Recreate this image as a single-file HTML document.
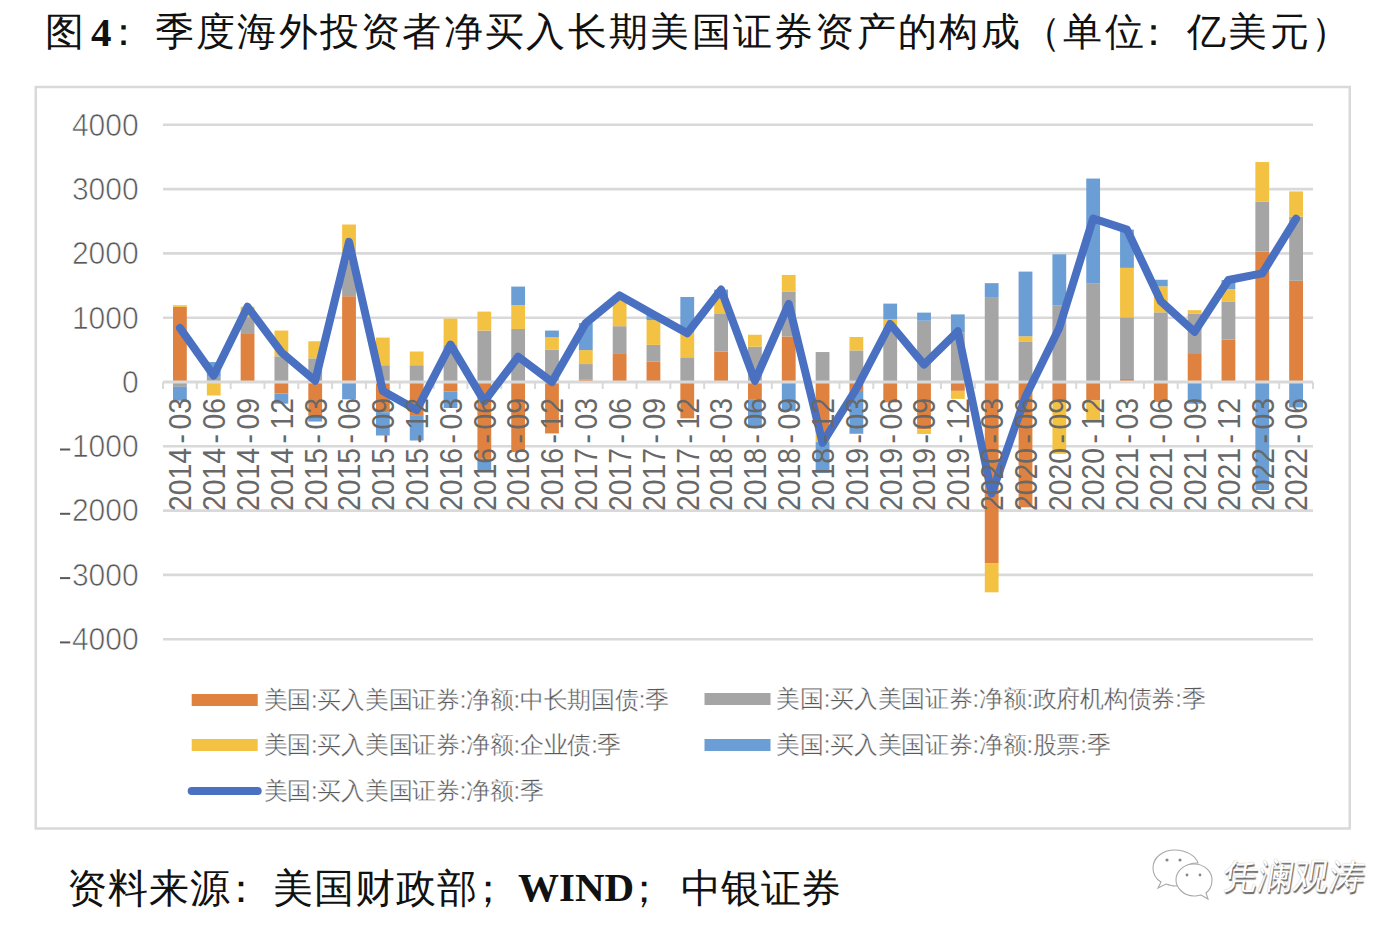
<!DOCTYPE html>
<html><head><meta charset="utf-8"><style>
html,body{margin:0;padding:0;background:#fff;width:1390px;height:930px;overflow:hidden}
.yl{font-family:"Liberation Sans",sans-serif;font-size:32.3px;fill:#595959;stroke:#fff;stroke-width:0.7px}
.xl{font-family:"Liberation Sans",sans-serif;font-size:31.5px;fill:#686868}
.lg{font-family:"Liberation Sans",sans-serif;font-size:23.6px;letter-spacing:-0.25px;fill:#595959;stroke:#fff;stroke-width:0.35px}
.ti{position:absolute;font-family:"Liberation Serif",serif;color:#111;white-space:nowrap;line-height:1}
</style></head><body>
<svg width="1390" height="930" style="position:absolute;left:0;top:0">
<rect x="35.75" y="87" width="1314" height="741.5" fill="none" stroke="#D9D9D9" stroke-width="2.5"/>
<line x1="163.0" x2="1313.0" y1="124.80" y2="124.80" stroke="#D9D9D9" stroke-width="2.6"/>
<line x1="163.0" x2="1313.0" y1="189.10" y2="189.10" stroke="#D9D9D9" stroke-width="2.6"/>
<line x1="163.0" x2="1313.0" y1="253.40" y2="253.40" stroke="#D9D9D9" stroke-width="2.6"/>
<line x1="163.0" x2="1313.0" y1="317.70" y2="317.70" stroke="#D9D9D9" stroke-width="2.6"/>
<line x1="163.0" x2="1313.0" y1="446.30" y2="446.30" stroke="#D9D9D9" stroke-width="2.6"/>
<line x1="163.0" x2="1313.0" y1="510.60" y2="510.60" stroke="#D9D9D9" stroke-width="2.6"/>
<line x1="163.0" x2="1313.0" y1="574.90" y2="574.90" stroke="#D9D9D9" stroke-width="2.6"/>
<line x1="163.0" x2="1313.0" y1="639.20" y2="639.20" stroke="#D9D9D9" stroke-width="2.6"/>
<rect x="173.01" y="306.90" width="13.8" height="75.10" fill="#E0823F"/>
<rect x="173.01" y="382.00" width="13.8" height="4.82" fill="#A5A5A5"/>
<rect x="173.01" y="305.23" width="13.8" height="1.67" fill="#F4C243"/>
<rect x="173.01" y="386.82" width="13.8" height="13.82" fill="#6A9ED4"/>
<rect x="206.84" y="376.86" width="13.8" height="5.14" fill="#A5A5A5"/>
<rect x="206.84" y="382.00" width="13.8" height="13.50" fill="#F4C243"/>
<rect x="206.84" y="362.07" width="13.8" height="14.79" fill="#6A9ED4"/>
<rect x="240.66" y="333.97" width="13.8" height="48.03" fill="#E0823F"/>
<rect x="240.66" y="316.67" width="13.8" height="17.30" fill="#A5A5A5"/>
<rect x="240.66" y="306.77" width="13.8" height="9.90" fill="#F4C243"/>
<rect x="274.48" y="382.00" width="13.8" height="11.57" fill="#E0823F"/>
<rect x="274.48" y="356.28" width="13.8" height="25.72" fill="#A5A5A5"/>
<rect x="274.48" y="330.56" width="13.8" height="25.72" fill="#F4C243"/>
<rect x="274.48" y="393.57" width="13.8" height="10.10" fill="#6A9ED4"/>
<rect x="308.31" y="382.00" width="13.8" height="33.11" fill="#E0823F"/>
<rect x="308.31" y="358.34" width="13.8" height="23.66" fill="#A5A5A5"/>
<rect x="308.31" y="341.23" width="13.8" height="17.10" fill="#F4C243"/>
<rect x="308.31" y="415.11" width="13.8" height="6.43" fill="#6A9ED4"/>
<rect x="342.13" y="296.22" width="13.8" height="85.78" fill="#E0823F"/>
<rect x="342.13" y="261.37" width="13.8" height="34.85" fill="#A5A5A5"/>
<rect x="342.13" y="224.53" width="13.8" height="36.84" fill="#F4C243"/>
<rect x="342.13" y="382.00" width="13.8" height="17.36" fill="#6A9ED4"/>
<rect x="375.95" y="382.00" width="13.8" height="30.22" fill="#E0823F"/>
<rect x="375.95" y="365.22" width="13.8" height="16.78" fill="#A5A5A5"/>
<rect x="375.95" y="337.57" width="13.8" height="27.65" fill="#F4C243"/>
<rect x="375.95" y="412.22" width="13.8" height="23.28" fill="#6A9ED4"/>
<rect x="409.78" y="382.00" width="13.8" height="33.11" fill="#E0823F"/>
<rect x="409.78" y="365.22" width="13.8" height="16.78" fill="#A5A5A5"/>
<rect x="409.78" y="351.52" width="13.8" height="13.70" fill="#F4C243"/>
<rect x="409.78" y="415.11" width="13.8" height="25.40" fill="#6A9ED4"/>
<rect x="443.60" y="382.00" width="13.8" height="9.45" fill="#E0823F"/>
<rect x="443.60" y="345.16" width="13.8" height="36.84" fill="#A5A5A5"/>
<rect x="443.60" y="318.60" width="13.8" height="26.56" fill="#F4C243"/>
<rect x="443.60" y="391.45" width="13.8" height="16.53" fill="#6A9ED4"/>
<rect x="477.42" y="382.00" width="13.8" height="76.90" fill="#E0823F"/>
<rect x="477.42" y="330.56" width="13.8" height="51.44" fill="#A5A5A5"/>
<rect x="477.42" y="311.59" width="13.8" height="18.97" fill="#F4C243"/>
<rect x="477.42" y="458.90" width="13.8" height="12.92" fill="#6A9ED4"/>
<rect x="511.25" y="382.00" width="13.8" height="70.09" fill="#E0823F"/>
<rect x="511.25" y="328.95" width="13.8" height="53.05" fill="#A5A5A5"/>
<rect x="511.25" y="305.23" width="13.8" height="23.73" fill="#F4C243"/>
<rect x="511.25" y="286.58" width="13.8" height="18.65" fill="#6A9ED4"/>
<rect x="545.07" y="382.00" width="13.8" height="51.44" fill="#E0823F"/>
<rect x="545.07" y="349.85" width="13.8" height="32.15" fill="#A5A5A5"/>
<rect x="545.07" y="337.25" width="13.8" height="12.60" fill="#F4C243"/>
<rect x="545.07" y="330.56" width="13.8" height="6.69" fill="#6A9ED4"/>
<rect x="578.89" y="379.81" width="13.8" height="2.19" fill="#E0823F"/>
<rect x="578.89" y="364.06" width="13.8" height="15.75" fill="#A5A5A5"/>
<rect x="578.89" y="350.11" width="13.8" height="13.95" fill="#F4C243"/>
<rect x="578.89" y="323.10" width="13.8" height="27.01" fill="#6A9ED4"/>
<rect x="612.72" y="353.19" width="13.8" height="28.81" fill="#E0823F"/>
<rect x="612.72" y="326.19" width="13.8" height="27.01" fill="#A5A5A5"/>
<rect x="612.72" y="295.39" width="13.8" height="30.80" fill="#F4C243"/>
<rect x="646.54" y="361.75" width="13.8" height="20.25" fill="#E0823F"/>
<rect x="646.54" y="344.90" width="13.8" height="16.85" fill="#A5A5A5"/>
<rect x="646.54" y="320.08" width="13.8" height="24.82" fill="#F4C243"/>
<rect x="646.54" y="314.49" width="13.8" height="5.59" fill="#6A9ED4"/>
<rect x="680.36" y="382.00" width="13.8" height="36.33" fill="#E0823F"/>
<rect x="680.36" y="357.31" width="13.8" height="24.69" fill="#A5A5A5"/>
<rect x="680.36" y="332.55" width="13.8" height="24.76" fill="#F4C243"/>
<rect x="680.36" y="297.00" width="13.8" height="35.56" fill="#6A9ED4"/>
<rect x="714.19" y="351.71" width="13.8" height="30.29" fill="#E0823F"/>
<rect x="714.19" y="314.03" width="13.8" height="37.68" fill="#A5A5A5"/>
<rect x="714.19" y="298.73" width="13.8" height="15.30" fill="#F4C243"/>
<rect x="714.19" y="289.60" width="13.8" height="9.13" fill="#6A9ED4"/>
<rect x="748.01" y="382.00" width="13.8" height="17.88" fill="#E0823F"/>
<rect x="748.01" y="346.70" width="13.8" height="35.30" fill="#A5A5A5"/>
<rect x="748.01" y="334.74" width="13.8" height="11.96" fill="#F4C243"/>
<rect x="748.01" y="399.88" width="13.8" height="28.29" fill="#6A9ED4"/>
<rect x="781.84" y="336.48" width="13.8" height="45.52" fill="#E0823F"/>
<rect x="781.84" y="291.85" width="13.8" height="44.62" fill="#A5A5A5"/>
<rect x="781.84" y="274.94" width="13.8" height="16.91" fill="#F4C243"/>
<rect x="781.84" y="382.00" width="13.8" height="28.87" fill="#6A9ED4"/>
<rect x="815.66" y="382.00" width="13.8" height="51.12" fill="#E0823F"/>
<rect x="815.66" y="352.04" width="13.8" height="29.96" fill="#A5A5A5"/>
<rect x="815.66" y="433.12" width="13.8" height="9.00" fill="#F4C243"/>
<rect x="815.66" y="442.12" width="13.8" height="30.67" fill="#6A9ED4"/>
<rect x="849.48" y="382.00" width="13.8" height="8.87" fill="#E0823F"/>
<rect x="849.48" y="350.43" width="13.8" height="31.57" fill="#A5A5A5"/>
<rect x="849.48" y="336.99" width="13.8" height="13.44" fill="#F4C243"/>
<rect x="849.48" y="390.87" width="13.8" height="42.89" fill="#6A9ED4"/>
<rect x="883.31" y="382.00" width="13.8" height="20.38" fill="#E0823F"/>
<rect x="883.31" y="327.86" width="13.8" height="54.14" fill="#A5A5A5"/>
<rect x="883.31" y="319.37" width="13.8" height="8.49" fill="#F4C243"/>
<rect x="883.31" y="303.62" width="13.8" height="15.75" fill="#6A9ED4"/>
<rect x="917.13" y="382.00" width="13.8" height="47.32" fill="#E0823F"/>
<rect x="917.13" y="320.72" width="13.8" height="61.28" fill="#A5A5A5"/>
<rect x="917.13" y="429.32" width="13.8" height="4.63" fill="#F4C243"/>
<rect x="917.13" y="312.62" width="13.8" height="8.10" fill="#6A9ED4"/>
<rect x="950.95" y="382.00" width="13.8" height="8.87" fill="#E0823F"/>
<rect x="950.95" y="332.49" width="13.8" height="49.51" fill="#A5A5A5"/>
<rect x="950.95" y="390.87" width="13.8" height="8.04" fill="#F4C243"/>
<rect x="950.95" y="314.42" width="13.8" height="18.07" fill="#6A9ED4"/>
<rect x="984.78" y="382.00" width="13.8" height="181.07" fill="#E0823F"/>
<rect x="984.78" y="297.06" width="13.8" height="84.94" fill="#A5A5A5"/>
<rect x="984.78" y="563.07" width="13.8" height="29.26" fill="#F4C243"/>
<rect x="984.78" y="283.17" width="13.8" height="13.89" fill="#6A9ED4"/>
<rect x="1018.60" y="382.00" width="13.8" height="125.26" fill="#E0823F"/>
<rect x="1018.60" y="341.94" width="13.8" height="40.06" fill="#A5A5A5"/>
<rect x="1018.60" y="336.28" width="13.8" height="5.66" fill="#F4C243"/>
<rect x="1018.60" y="271.60" width="13.8" height="64.69" fill="#6A9ED4"/>
<rect x="1052.42" y="382.00" width="13.8" height="18.52" fill="#E0823F"/>
<rect x="1052.42" y="305.61" width="13.8" height="76.39" fill="#A5A5A5"/>
<rect x="1052.42" y="400.52" width="13.8" height="53.37" fill="#F4C243"/>
<rect x="1052.42" y="254.30" width="13.8" height="51.31" fill="#6A9ED4"/>
<rect x="1086.25" y="382.00" width="13.8" height="18.52" fill="#E0823F"/>
<rect x="1086.25" y="283.17" width="13.8" height="98.83" fill="#A5A5A5"/>
<rect x="1086.25" y="400.52" width="13.8" height="19.87" fill="#F4C243"/>
<rect x="1086.25" y="178.55" width="13.8" height="104.62" fill="#6A9ED4"/>
<rect x="1120.07" y="378.98" width="13.8" height="3.02" fill="#E0823F"/>
<rect x="1120.07" y="317.31" width="13.8" height="61.66" fill="#A5A5A5"/>
<rect x="1120.07" y="267.87" width="13.8" height="49.45" fill="#F4C243"/>
<rect x="1120.07" y="229.61" width="13.8" height="38.26" fill="#6A9ED4"/>
<rect x="1153.89" y="382.00" width="13.8" height="19.87" fill="#E0823F"/>
<rect x="1153.89" y="312.30" width="13.8" height="69.70" fill="#A5A5A5"/>
<rect x="1153.89" y="286.32" width="13.8" height="25.98" fill="#F4C243"/>
<rect x="1153.89" y="279.76" width="13.8" height="6.56" fill="#6A9ED4"/>
<rect x="1187.72" y="353.13" width="13.8" height="28.87" fill="#E0823F"/>
<rect x="1187.72" y="313.58" width="13.8" height="39.54" fill="#A5A5A5"/>
<rect x="1187.72" y="310.18" width="13.8" height="3.41" fill="#F4C243"/>
<rect x="1187.72" y="382.00" width="13.8" height="21.73" fill="#6A9ED4"/>
<rect x="1221.54" y="339.43" width="13.8" height="42.57" fill="#E0823F"/>
<rect x="1221.54" y="301.43" width="13.8" height="38.00" fill="#A5A5A5"/>
<rect x="1221.54" y="289.02" width="13.8" height="12.41" fill="#F4C243"/>
<rect x="1221.54" y="280.02" width="13.8" height="9.00" fill="#6A9ED4"/>
<rect x="1255.36" y="251.60" width="13.8" height="130.40" fill="#E0823F"/>
<rect x="1255.36" y="201.83" width="13.8" height="49.77" fill="#A5A5A5"/>
<rect x="1255.36" y="162.03" width="13.8" height="39.80" fill="#F4C243"/>
<rect x="1255.36" y="382.00" width="13.8" height="108.02" fill="#6A9ED4"/>
<rect x="1289.19" y="280.79" width="13.8" height="101.21" fill="#E0823F"/>
<rect x="1289.19" y="216.68" width="13.8" height="64.11" fill="#A5A5A5"/>
<rect x="1289.19" y="191.41" width="13.8" height="25.27" fill="#F4C243"/>
<rect x="1289.19" y="382.00" width="13.8" height="25.40" fill="#6A9ED4"/>
<line x1="163.0" x2="1313.0" y1="382.0" y2="382.0" stroke="#D9D9D9" stroke-width="3"/>
<line x1="163.00" x2="163.00" y1="382.0" y2="389.0" stroke="#D9D9D9" stroke-width="2"/>
<line x1="196.82" x2="196.82" y1="382.0" y2="389.0" stroke="#D9D9D9" stroke-width="2"/>
<line x1="230.65" x2="230.65" y1="382.0" y2="389.0" stroke="#D9D9D9" stroke-width="2"/>
<line x1="264.47" x2="264.47" y1="382.0" y2="389.0" stroke="#D9D9D9" stroke-width="2"/>
<line x1="298.29" x2="298.29" y1="382.0" y2="389.0" stroke="#D9D9D9" stroke-width="2"/>
<line x1="332.12" x2="332.12" y1="382.0" y2="389.0" stroke="#D9D9D9" stroke-width="2"/>
<line x1="365.94" x2="365.94" y1="382.0" y2="389.0" stroke="#D9D9D9" stroke-width="2"/>
<line x1="399.76" x2="399.76" y1="382.0" y2="389.0" stroke="#D9D9D9" stroke-width="2"/>
<line x1="433.59" x2="433.59" y1="382.0" y2="389.0" stroke="#D9D9D9" stroke-width="2"/>
<line x1="467.41" x2="467.41" y1="382.0" y2="389.0" stroke="#D9D9D9" stroke-width="2"/>
<line x1="501.24" x2="501.24" y1="382.0" y2="389.0" stroke="#D9D9D9" stroke-width="2"/>
<line x1="535.06" x2="535.06" y1="382.0" y2="389.0" stroke="#D9D9D9" stroke-width="2"/>
<line x1="568.88" x2="568.88" y1="382.0" y2="389.0" stroke="#D9D9D9" stroke-width="2"/>
<line x1="602.71" x2="602.71" y1="382.0" y2="389.0" stroke="#D9D9D9" stroke-width="2"/>
<line x1="636.53" x2="636.53" y1="382.0" y2="389.0" stroke="#D9D9D9" stroke-width="2"/>
<line x1="670.35" x2="670.35" y1="382.0" y2="389.0" stroke="#D9D9D9" stroke-width="2"/>
<line x1="704.18" x2="704.18" y1="382.0" y2="389.0" stroke="#D9D9D9" stroke-width="2"/>
<line x1="738.00" x2="738.00" y1="382.0" y2="389.0" stroke="#D9D9D9" stroke-width="2"/>
<line x1="771.82" x2="771.82" y1="382.0" y2="389.0" stroke="#D9D9D9" stroke-width="2"/>
<line x1="805.65" x2="805.65" y1="382.0" y2="389.0" stroke="#D9D9D9" stroke-width="2"/>
<line x1="839.47" x2="839.47" y1="382.0" y2="389.0" stroke="#D9D9D9" stroke-width="2"/>
<line x1="873.29" x2="873.29" y1="382.0" y2="389.0" stroke="#D9D9D9" stroke-width="2"/>
<line x1="907.12" x2="907.12" y1="382.0" y2="389.0" stroke="#D9D9D9" stroke-width="2"/>
<line x1="940.94" x2="940.94" y1="382.0" y2="389.0" stroke="#D9D9D9" stroke-width="2"/>
<line x1="974.76" x2="974.76" y1="382.0" y2="389.0" stroke="#D9D9D9" stroke-width="2"/>
<line x1="1008.59" x2="1008.59" y1="382.0" y2="389.0" stroke="#D9D9D9" stroke-width="2"/>
<line x1="1042.41" x2="1042.41" y1="382.0" y2="389.0" stroke="#D9D9D9" stroke-width="2"/>
<line x1="1076.24" x2="1076.24" y1="382.0" y2="389.0" stroke="#D9D9D9" stroke-width="2"/>
<line x1="1110.06" x2="1110.06" y1="382.0" y2="389.0" stroke="#D9D9D9" stroke-width="2"/>
<line x1="1143.88" x2="1143.88" y1="382.0" y2="389.0" stroke="#D9D9D9" stroke-width="2"/>
<line x1="1177.71" x2="1177.71" y1="382.0" y2="389.0" stroke="#D9D9D9" stroke-width="2"/>
<line x1="1211.53" x2="1211.53" y1="382.0" y2="389.0" stroke="#D9D9D9" stroke-width="2"/>
<line x1="1245.35" x2="1245.35" y1="382.0" y2="389.0" stroke="#D9D9D9" stroke-width="2"/>
<line x1="1279.18" x2="1279.18" y1="382.0" y2="389.0" stroke="#D9D9D9" stroke-width="2"/>
<line x1="1313.00" x2="1313.00" y1="382.0" y2="389.0" stroke="#D9D9D9" stroke-width="2"/>
<text transform="translate(138.7,135.60) scale(0.93,1)" text-anchor="end" class="yl">4000</text>
<text transform="translate(138.7,199.90) scale(0.93,1)" text-anchor="end" class="yl">3000</text>
<text transform="translate(138.7,264.20) scale(0.93,1)" text-anchor="end" class="yl">2000</text>
<text transform="translate(138.7,328.50) scale(0.93,1)" text-anchor="end" class="yl">1000</text>
<text transform="translate(138.7,392.80) scale(0.93,1)" text-anchor="end" class="yl">0</text>
<text transform="translate(138.7,457.10) scale(0.93,1)" text-anchor="end" class="yl">1000</text>
<line x1="60" x2="70.2" y1="449.50" y2="449.50" stroke="#595959" stroke-width="2"/>
<text transform="translate(138.7,521.40) scale(0.93,1)" text-anchor="end" class="yl">2000</text>
<line x1="60" x2="70.2" y1="513.80" y2="513.80" stroke="#595959" stroke-width="2"/>
<text transform="translate(138.7,585.70) scale(0.93,1)" text-anchor="end" class="yl">3000</text>
<line x1="60" x2="70.2" y1="578.10" y2="578.10" stroke="#595959" stroke-width="2"/>
<text transform="translate(138.7,650.00) scale(0.93,1)" text-anchor="end" class="yl">4000</text>
<line x1="60" x2="70.2" y1="642.40" y2="642.40" stroke="#595959" stroke-width="2"/>
<polyline points="179.91,327.92 213.74,375.57 247.56,306.77 281.38,352.23 315.21,380.78 349.03,241.89 382.85,391.07 416.68,410.03 450.50,344.58 484.32,401.42 518.15,356.67 551.97,382.00 585.79,323.10 619.62,295.39 653.44,314.49 687.26,333.32 721.09,289.60 754.91,380.91 788.74,303.81 822.56,442.83 856.38,388.75 890.21,324.00 924.03,364.57 957.85,331.33 991.68,493.50 1025.50,396.85 1059.32,327.67 1093.15,218.49 1126.97,229.61 1160.79,301.24 1194.62,331.91 1228.44,280.02 1262.26,273.33 1296.09,218.68" fill="none" stroke="#4A70C2" stroke-width="8" stroke-linejoin="round" stroke-linecap="round"/>
<text transform="translate(191.21,511) rotate(-90) scale(0.9,1)" class="xl">2014<tspan dx="5">-</tspan><tspan dx="5">03</tspan></text>
<text transform="translate(225.04,511) rotate(-90) scale(0.9,1)" class="xl">2014<tspan dx="5">-</tspan><tspan dx="5">06</tspan></text>
<text transform="translate(258.86,511) rotate(-90) scale(0.9,1)" class="xl">2014<tspan dx="5">-</tspan><tspan dx="5">09</tspan></text>
<text transform="translate(292.68,511) rotate(-90) scale(0.9,1)" class="xl">2014<tspan dx="5">-</tspan><tspan dx="5">12</tspan></text>
<text transform="translate(326.51,511) rotate(-90) scale(0.9,1)" class="xl">2015<tspan dx="5">-</tspan><tspan dx="5">03</tspan></text>
<text transform="translate(360.33,511) rotate(-90) scale(0.9,1)" class="xl">2015<tspan dx="5">-</tspan><tspan dx="5">06</tspan></text>
<text transform="translate(394.15,511) rotate(-90) scale(0.9,1)" class="xl">2015<tspan dx="5">-</tspan><tspan dx="5">09</tspan></text>
<text transform="translate(427.98,511) rotate(-90) scale(0.9,1)" class="xl">2015<tspan dx="5">-</tspan><tspan dx="5">12</tspan></text>
<text transform="translate(461.80,511) rotate(-90) scale(0.9,1)" class="xl">2016<tspan dx="5">-</tspan><tspan dx="5">03</tspan></text>
<text transform="translate(495.62,511) rotate(-90) scale(0.9,1)" class="xl">2016<tspan dx="5">-</tspan><tspan dx="5">06</tspan></text>
<text transform="translate(529.45,511) rotate(-90) scale(0.9,1)" class="xl">2016<tspan dx="5">-</tspan><tspan dx="5">09</tspan></text>
<text transform="translate(563.27,511) rotate(-90) scale(0.9,1)" class="xl">2016<tspan dx="5">-</tspan><tspan dx="5">12</tspan></text>
<text transform="translate(597.09,511) rotate(-90) scale(0.9,1)" class="xl">2017<tspan dx="5">-</tspan><tspan dx="5">03</tspan></text>
<text transform="translate(630.92,511) rotate(-90) scale(0.9,1)" class="xl">2017<tspan dx="5">-</tspan><tspan dx="5">06</tspan></text>
<text transform="translate(664.74,511) rotate(-90) scale(0.9,1)" class="xl">2017<tspan dx="5">-</tspan><tspan dx="5">09</tspan></text>
<text transform="translate(698.56,511) rotate(-90) scale(0.9,1)" class="xl">2017<tspan dx="5">-</tspan><tspan dx="5">12</tspan></text>
<text transform="translate(732.39,511) rotate(-90) scale(0.9,1)" class="xl">2018<tspan dx="5">-</tspan><tspan dx="5">03</tspan></text>
<text transform="translate(766.21,511) rotate(-90) scale(0.9,1)" class="xl">2018<tspan dx="5">-</tspan><tspan dx="5">06</tspan></text>
<text transform="translate(800.04,511) rotate(-90) scale(0.9,1)" class="xl">2018<tspan dx="5">-</tspan><tspan dx="5">09</tspan></text>
<text transform="translate(833.86,511) rotate(-90) scale(0.9,1)" class="xl">2018<tspan dx="5">-</tspan><tspan dx="5">12</tspan></text>
<text transform="translate(867.68,511) rotate(-90) scale(0.9,1)" class="xl">2019<tspan dx="5">-</tspan><tspan dx="5">03</tspan></text>
<text transform="translate(901.51,511) rotate(-90) scale(0.9,1)" class="xl">2019<tspan dx="5">-</tspan><tspan dx="5">06</tspan></text>
<text transform="translate(935.33,511) rotate(-90) scale(0.9,1)" class="xl">2019<tspan dx="5">-</tspan><tspan dx="5">09</tspan></text>
<text transform="translate(969.15,511) rotate(-90) scale(0.9,1)" class="xl">2019<tspan dx="5">-</tspan><tspan dx="5">12</tspan></text>
<text transform="translate(1002.98,511) rotate(-90) scale(0.9,1)" class="xl">2020<tspan dx="5">-</tspan><tspan dx="5">03</tspan></text>
<text transform="translate(1036.80,511) rotate(-90) scale(0.9,1)" class="xl">2020<tspan dx="5">-</tspan><tspan dx="5">06</tspan></text>
<text transform="translate(1070.62,511) rotate(-90) scale(0.9,1)" class="xl">2020<tspan dx="5">-</tspan><tspan dx="5">09</tspan></text>
<text transform="translate(1104.45,511) rotate(-90) scale(0.9,1)" class="xl">2020<tspan dx="5">-</tspan><tspan dx="5">12</tspan></text>
<text transform="translate(1138.27,511) rotate(-90) scale(0.9,1)" class="xl">2021<tspan dx="5">-</tspan><tspan dx="5">03</tspan></text>
<text transform="translate(1172.09,511) rotate(-90) scale(0.9,1)" class="xl">2021<tspan dx="5">-</tspan><tspan dx="5">06</tspan></text>
<text transform="translate(1205.92,511) rotate(-90) scale(0.9,1)" class="xl">2021<tspan dx="5">-</tspan><tspan dx="5">09</tspan></text>
<text transform="translate(1239.74,511) rotate(-90) scale(0.9,1)" class="xl">2021<tspan dx="5">-</tspan><tspan dx="5">12</tspan></text>
<text transform="translate(1273.56,511) rotate(-90) scale(0.9,1)" class="xl">2022<tspan dx="5">-</tspan><tspan dx="5">03</tspan></text>
<text transform="translate(1307.39,511) rotate(-90) scale(0.9,1)" class="xl">2022<tspan dx="5">-</tspan><tspan dx="5">06</tspan></text>
<rect x="191.7" y="694" width="66" height="12" fill="#E0823F"/>
<text x="263.5" y="708.4" class="lg">美国:买入美国证券:净额:中长期国债:季</text>
<rect x="704.5" y="693" width="66" height="12" fill="#A5A5A5"/>
<text x="776.3" y="707.4" class="lg">美国:买入美国证券:净额:政府机构债券:季</text>
<rect x="191.7" y="739" width="66" height="12" fill="#F4C243"/>
<text x="263.5" y="753.4" class="lg">美国:买入美国证券:净额:企业债:季</text>
<rect x="704.5" y="739" width="66" height="12" fill="#6A9ED4"/>
<text x="776.3" y="753.4" class="lg">美国:买入美国证券:净额:股票:季</text>
<line x1="191.7" x2="257.7" y1="791" y2="791" stroke="#4A70C2" stroke-width="8" stroke-linecap="round"/>
<text x="263.5" y="799.4" class="lg">美国:买入美国证券:净额:季</text>
</svg>
<div class="ti" style="left:45px;top:12px;font-size:39px">图</div>
<div class="ti" style="left:91px;top:12px;font-size:41px;font-weight:bold;-webkit-text-stroke:0">4</div>
<div class="ti" style="left:104px;top:12px;font-size:39px">：</div>
<div class="ti" style="left:153.50px;top:12px;width:41.30px;text-align:center;font-size:39px;transform:scaleX(1)">季</div>
<div class="ti" style="left:194.80px;top:12px;width:41.30px;text-align:center;font-size:39px;transform:scaleX(1)">度</div>
<div class="ti" style="left:236.10px;top:12px;width:41.30px;text-align:center;font-size:39px;transform:scaleX(1)">海</div>
<div class="ti" style="left:277.40px;top:12px;width:41.30px;text-align:center;font-size:39px;transform:scaleX(1)">外</div>
<div class="ti" style="left:318.70px;top:12px;width:41.30px;text-align:center;font-size:39px;transform:scaleX(1)">投</div>
<div class="ti" style="left:360.00px;top:12px;width:41.30px;text-align:center;font-size:39px;transform:scaleX(1)">资</div>
<div class="ti" style="left:401.30px;top:12px;width:41.30px;text-align:center;font-size:39px;transform:scaleX(1)">者</div>
<div class="ti" style="left:442.60px;top:12px;width:41.30px;text-align:center;font-size:39px;transform:scaleX(1)">净</div>
<div class="ti" style="left:483.90px;top:12px;width:41.30px;text-align:center;font-size:39px;transform:scaleX(1)">买</div>
<div class="ti" style="left:525.20px;top:12px;width:41.30px;text-align:center;font-size:39px;transform:scaleX(1)">入</div>
<div class="ti" style="left:566.50px;top:12px;width:41.30px;text-align:center;font-size:39px;transform:scaleX(1)">长</div>
<div class="ti" style="left:607.80px;top:12px;width:41.30px;text-align:center;font-size:39px;transform:scaleX(1)">期</div>
<div class="ti" style="left:649.10px;top:12px;width:41.30px;text-align:center;font-size:39px;transform:scaleX(1)">美</div>
<div class="ti" style="left:690.40px;top:12px;width:41.30px;text-align:center;font-size:39px;transform:scaleX(1)">国</div>
<div class="ti" style="left:731.70px;top:12px;width:41.30px;text-align:center;font-size:39px;transform:scaleX(1)">证</div>
<div class="ti" style="left:773.00px;top:12px;width:41.30px;text-align:center;font-size:39px;transform:scaleX(1)">券</div>
<div class="ti" style="left:814.30px;top:12px;width:41.30px;text-align:center;font-size:39px;transform:scaleX(1)">资</div>
<div class="ti" style="left:855.60px;top:12px;width:41.30px;text-align:center;font-size:39px;transform:scaleX(1)">产</div>
<div class="ti" style="left:896.90px;top:12px;width:41.30px;text-align:center;font-size:39px;transform:scaleX(1)">的</div>
<div class="ti" style="left:938.20px;top:12px;width:41.30px;text-align:center;font-size:39px;transform:scaleX(1)">构</div>
<div class="ti" style="left:979.50px;top:12px;width:41.30px;text-align:center;font-size:39px;transform:scaleX(1)">成</div>
<div class="ti" style="left:1020.80px;top:12px;width:41.30px;text-align:center;font-size:39px;transform:scaleX(1)">（</div>
<div class="ti" style="left:1062.10px;top:12px;width:41.30px;text-align:center;font-size:39px;transform:scaleX(1)">单</div>
<div class="ti" style="left:1103.40px;top:12px;width:41.30px;text-align:center;font-size:39px;transform:scaleX(1)">位</div>
<div class="ti" style="left:1132.70px;top:12px;width:41.30px;text-align:center;font-size:39px;transform:scaleX(1)">：</div>
<div class="ti" style="left:1186.00px;top:12px;width:41.30px;text-align:center;font-size:39px;transform:scaleX(1)">亿</div>
<div class="ti" style="left:1227.30px;top:12px;width:41.30px;text-align:center;font-size:39px;transform:scaleX(1)">美</div>
<div class="ti" style="left:1268.60px;top:12px;width:41.30px;text-align:center;font-size:39px;transform:scaleX(1)">元</div>
<div class="ti" style="left:1309.90px;top:12px;width:41.30px;text-align:center;font-size:39px;transform:scaleX(1)">）</div>
<div class="ti" style="left:66.50px;top:869px;width:41.10px;text-align:center;font-size:40px;transform:scaleX(1)">资</div>
<div class="ti" style="left:107.60px;top:869px;width:41.10px;text-align:center;font-size:40px;transform:scaleX(1)">料</div>
<div class="ti" style="left:148.70px;top:869px;width:41.10px;text-align:center;font-size:40px;transform:scaleX(1)">来</div>
<div class="ti" style="left:189.80px;top:869px;width:41.10px;text-align:center;font-size:40px;transform:scaleX(1)">源</div>
<div class="ti" style="left:220.90px;top:869px;width:41.10px;text-align:center;font-size:40px;transform:scaleX(1)">：</div>
<div class="ti" style="left:272.00px;top:869px;width:41.10px;text-align:center;font-size:40px;transform:scaleX(1)">美</div>
<div class="ti" style="left:313.10px;top:869px;width:41.10px;text-align:center;font-size:40px;transform:scaleX(1)">国</div>
<div class="ti" style="left:354.20px;top:869px;width:41.10px;text-align:center;font-size:40px;transform:scaleX(1)">财</div>
<div class="ti" style="left:395.30px;top:869px;width:41.10px;text-align:center;font-size:40px;transform:scaleX(1)">政</div>
<div class="ti" style="left:436.40px;top:869px;width:41.10px;text-align:center;font-size:40px;transform:scaleX(1)">部</div>
<div class="ti" style="left:467.50px;top:869px;width:41.10px;text-align:center;font-size:40px;transform:scaleX(1)">；</div>
<div class="ti" style="left:518px;top:867px;font-size:41px;font-weight:bold;-webkit-text-stroke:0">WIND</div>
<div class="ti" style="left:624.00px;top:869px;width:40.00px;text-align:center;font-size:40px;transform:scaleX(1)">；</div>
<div class="ti" style="left:681.00px;top:869px;width:40.00px;text-align:center;font-size:40px;transform:scaleX(1)">中</div>
<div class="ti" style="left:721.00px;top:869px;width:40.00px;text-align:center;font-size:40px;transform:scaleX(1)">银</div>
<div class="ti" style="left:761.00px;top:869px;width:40.00px;text-align:center;font-size:40px;transform:scaleX(1)">证</div>
<div class="ti" style="left:801.00px;top:869px;width:40.00px;text-align:center;font-size:40px;transform:scaleX(1)">券</div>
<div class="ti" style="left:1223px;top:859px;font-size:35px;letter-spacing:0.5px;transform:skewX(-9deg);color:#fff;text-shadow:1.5px 1.5px 1px #666,0 0 1px #aaa">凭澜观涛</div>
<svg width="70" height="60" style="position:absolute;left:1148px;top:845px">
<g fill="#fff" stroke="#a8a8a8" stroke-width="1.1">
<path d="M27 5 C14 5 5 13 5 23 C5 29 8 34 13 37 L10 43 L18 39 C21 40 24 41 27 41 C29 41 30 41 31 40 C30 38 30 36 30 34 C30 25 38 18 49 18 C50 18 50 18 50 18 C48 11 38 5 27 5 Z"/>
<path d="M46 19 C36 19 28 26 28 35 C28 43 36 51 46 51 C49 51 51 50 53 50 L60 54 L58 48 C62 45 64 40 64 35 C64 26 56 19 46 19 Z"/>
</g>
<g fill="#888"><circle cx="19" cy="15" r="1.6"/><circle cx="32" cy="15" r="1.6"/><circle cx="39" cy="30" r="1.4"/><circle cx="52" cy="30" r="1.4"/></g>
</svg>
</body></html>
